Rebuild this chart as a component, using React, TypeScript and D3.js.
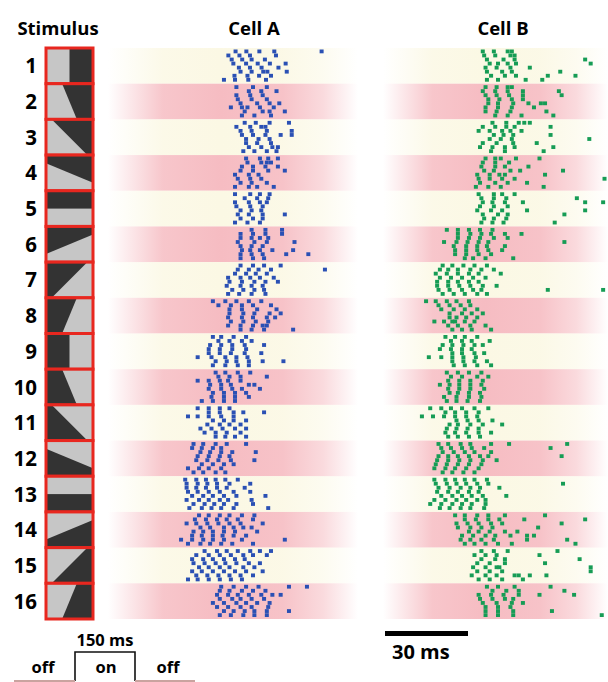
import React from "react";
import * as d3 from "d3";

// stimulus rows
const stimulusLabels = ["1", "2", "3", "4", "5", "6", "7", "8", "9", "10", "11", "12", "13", "14", "15", "16"];
// direction (deg, counter-clockwise) of the dark half of each stimulus
const stimulusAngles = [0, 22.5, 45, 67.5, 90, 112.5, 135, 157.5, 180, 202.5, 225, 247.5, 270, 292.5, 315, 337.5];

// spike times (ms) per stimulus row, 8 trials each
const cellASpikes = [
  [[23.7, 27.6, 32.3, 37.7, 54.8], [21.1, 25.1, 28.9, 38.3], [22.3, 26.1, 29.5, 34.3], [22.9, 27.5, 31.7, 36.1, 41.8], [24.9, 28.9, 33.1, 39.2], [25.5, 29.5, 33.7, 35.2, 42.2], [23.3, 28, 32.2, 36.5], [19.5, 23.5, 28.3, 34.7]],
  [[24, 30, 35], [28.5, 33, 38.5], [24, 29, 33.5], [24.5, 29.5, 35], [25.5, 31.5, 36, 39.5], [22, 26, 28, 32.5, 37.5], [27, 33.5, 36, 41.5], [26, 30.5, 36.5]],
  [[27, 31, 36, 43], [24, 29, 33, 34.5], [25.5, 29.5, 35, 44], [26, 30, 34.5, 40, 44], [27.5, 32, 36], [27.5, 31.5, 36.5], [28.5, 33, 37, 39], [26.5, 30.5, 35, 38.5]],
  [[27.5, 32.5, 35.5, 39], [28, 33, 35, 36.5], [26, 30, 34.5, 39], [25.5, 30, 35.5, 41.5], [23.5, 28.5, 32], [24.5, 29, 33], [25.5, 29.5, 35], [23.5, 28.5, 31.5, 37.5]],
  [[23.5, 29, 32.5, 36], [27, 31.5, 35.5], [23.5, 28.5, 32.5, 35], [24, 29, 33.5], [25.5, 29.5, 33], [24.5, 28.5, 33.5, 41.5], [25.5, 30, 33.5], [23.5, 28, 32.5]],
  [[29.5, 34.5, 40.5], [25.5, 30, 34.5, 40.5], [25.5, 29.5, 32.5, 35.5], [24.5, 30.5, 35, 45], [25.5, 29.5, 33.5], [26, 29, 32.5, 37, 44.5], [25.5, 29.5, 33.5, 42, 50], [25.5, 30, 34]],
  [[25.5, 30, 34, 40], [24.5, 28.5, 32, 36.5, 56], [23.5, 27.5, 31, 35], [21, 25.5, 29, 32.5, 37.5], [21.5, 26, 30.5, 34.5, 39], [20.5, 25.5, 29.5, 33.5], [22.5, 26.5, 30.5, 34], [21, 25, 29.5, 34.5]],
  [[15.5, 20, 24, 28.5, 33], [17.5, 22, 26, 30, 36.5], [21.5, 26, 31.5, 38.5], [21.5, 26.5, 30.5, 36, 40], [21, 26, 30, 35, 38], [22, 26.5, 31, 35.5], [21, 25.5, 30, 33.5, 35], [25.5, 29.5, 34, 44.5]],
  [[15.5, 18.5, 23, 27.5], [17.5, 21.5, 26, 29.5], [14.5, 18.5, 22.5, 27, 34], [14, 18, 22.5, 27.5], [14, 18, 22, 27, 33], [10, 15, 20, 24, 28], [16.5, 20.5, 24, 28.5, 33.5, 41], [15.5, 20, 24.5, 28.5]],
  [[16.5, 20, 24.5, 29], [17.5, 21.5, 25.5, 35], [10, 14, 18, 21, 25.5], [14.5, 18.5, 22, 28.5, 30.5], [14, 18.5, 22.5, 26, 32.5], [15.5, 19.5, 23.5, 27.5], [15, 19.5, 23.5, 28.5], [11.5, 15.5, 19.5, 23.5]],
  [[10, 14, 18, 21.5], [14, 18, 23, 26.5, 34], [6.5, 10, 14, 18.5, 23], [15.5, 19.5, 23, 27.5], [13.5, 18, 21.5, 25.5], [11, 15, 19, 23.5, 27.5], [12.5, 16.5, 20.5, 25.5], [16.5, 20, 23.5, 27.5]],
  [[8.5, 12, 16.5, 20.5, 27.5], [8, 11.5, 15.5, 18.5], [11, 14.5, 18.5, 22.5, 31], [10, 14, 18, 21.5], [9.5, 13.5, 17.5, 22, 30.5], [11.5, 15.5, 19.5, 23], [6.5, 10.5, 14, 18.5], [8.5, 12, 16.5, 20]],
  [[5.5, 9.5, 13, 16.5, 20, 24.5], [6, 10, 13.5, 17, 21.5, 29], [6, 9.5, 13, 17, 20.5, 27], [6.5, 10, 14, 18, 23, 29], [8, 12, 15.5, 19.5, 24, 34.5], [6, 10.5, 14, 18, 21, 29.5], [8.5, 12.5, 16, 19.5, 24, 30], [7, 11.5, 15, 18.5, 23, 35.5]],
  [[10.5, 14, 18, 21.5, 26, 30.5], [9, 13, 17, 20.5, 24.5, 30], [6, 9.5, 13.5, 17.5, 21.5, 25.5, 33.5], [11, 14.5, 19.5, 23, 26.5, 29.5], [8.5, 12, 15.5, 19.5, 23.5, 31.5], [8, 11.5, 15.5, 19, 23, 27.5], [4, 8, 12, 15.5, 19.5, 26, 41.5], [6.5, 11, 14.5, 18.5, 22.5, 30]],
  [[12.5, 17, 20.5, 24.5, 29, 32.5, 36.5], [9.5, 14, 18, 22, 26.5, 30, 35], [8, 12, 15.5, 19.5, 23.5, 27], [8.5, 12.5, 16.5, 20, 24, 28.5, 32.5], [10.5, 14, 18, 21.5, 26.5, 30.5], [8, 11.5, 15.5, 19.5, 23.5, 27.5, 33.5], [9.5, 13.5, 17.5, 21.5, 25.5, 30], [6.5, 10, 14, 18, 22, 26]],
  [[18.5, 23, 27.5, 32, 43, 49.5], [18, 21.5, 26, 30, 34.5], [17, 21, 24.5, 28.5, 33, 37, 40], [18, 22.5, 25.5, 29.5, 34], [15.5, 19.5, 24, 27.5, 31.5, 36], [17, 21, 25.5, 29.5, 35.5], [19.5, 23, 27, 30.5, 35, 43], [18, 22, 26.5, 30.5, 35]],
];

const cellBSpikes = [
  [[24.5, 28.5, 33.5, 35], [25, 29, 34.5, 36], [26, 32, 36, 61.5], [27, 30, 33.5, 36.5, 63.5], [25.5, 29.5, 34.5, 41.5], [26, 31.5, 35, 52.5], [27.5, 32.5, 36.5, 48, 58], [26, 30, 40, 46]],
  [[25.5, 29.5, 33.5, 35], [24.5, 29, 33.5, 39, 52], [25.5, 29.5, 34, 39, 53], [26.5, 30.5, 35, 39], [26.5, 30, 35.5, 41, 45.5, 47], [25.5, 30, 35, 43], [25.5, 29.5, 34.5, 47.5], [29, 33.5, 38.5, 50]],
  [[28, 33, 37.5, 39.5, 41.5], [24.5, 29, 33, 36, 49], [23, 27, 31.5, 34.5, 38.5], [28.5, 32, 35.5, 49], [27, 31, 35, 63], [24.5, 29.5, 35.5, 44], [23.5, 28, 32.5, 36, 50], [27.5, 32.5, 46.5]],
  [[25.5, 29, 31, 36.5, 45], [24.5, 29, 34], [24, 29, 32.5, 41], [25, 28.5, 34.5, 38, 53.5], [22.5, 27, 30.5, 32.5, 47], [23, 27, 31.5, 36, 68.5], [23.5, 29, 33.5, 40.5], [22, 26.5, 31, 46.5]],
  [[23, 28.5, 31.5, 36], [24, 28.5, 33, 58.5], [24.5, 28, 32.5, 39, 61.5, 68], [23.5, 28.5, 33.5], [22.5, 27.5, 31.5, 40.5, 61.5], [24.5, 30, 33.5, 54], [25, 28.5, 33], [24, 28, 32, 50.5]],
  [[11.5, 15.5, 19.5, 23.5, 28], [15.5, 20, 24, 27.5, 32.5, 38.5], [15.5, 19.5, 23.5, 28.5, 33.5], [10.5, 15, 19, 23, 26.5, 54], [14, 18.5, 22.5, 26, 32.5], [14.5, 18.5, 22.5, 26.5, 31.5], [14.5, 18.5, 23, 27.5], [18, 21, 25.5, 35.5]],
  [[10, 13.5, 17.5, 21.5, 26], [9, 12, 15.5, 20, 24, 28.5], [7.5, 11.5, 15.5, 19.5, 23, 31], [9, 13, 17, 21, 25.5], [8, 12, 15.5, 19.5, 23], [8, 12, 16, 20, 24.5, 29.5], [8.5, 12.5, 17, 21, 24, 48, 68], [10, 14, 18, 22.5, 26]],
  [[4, 7.5, 11.5, 15, 19.5], [8.5, 12.5, 16.5, 20], [9.5, 14, 18, 22.5], [12.5, 17, 20.5, 24.5], [12.5, 15, 18.5, 22.5], [7, 10.5, 13.5, 14.5, 18, 21.5], [12, 15.5, 20, 25.5], [13.5, 17, 20.5, 27.5]],
  [[11, 14.5, 18, 22.5], [13, 17, 20.5, 27], [10, 13.5, 17.5, 21.5, 24.5], [9, 13, 17, 20.5], [13.5, 17, 21.5, 25], [5, 9.5, 13.5, 17.5, 22], [13.5, 17.5, 21.5, 26], [14, 18, 22.5, 27.5]],
  [[11.5, 15.5, 19.5, 24], [13, 17, 22.5, 26.5], [12, 16, 20, 24.5], [9, 12.5, 16, 20, 24], [12, 16, 20, 25], [12.5, 15.5, 19.5, 23.5], [10.5, 15, 19.5, 24], [11.5, 15, 19, 23.5]],
  [[5.5, 9.5, 13, 17, 21.5, 26.5], [11, 14.5, 18.5, 23], [2.5, 6.5, 10.5, 14.5, 18.5, 22.5], [15, 19, 23, 28], [12.5, 15.5, 20, 24.5, 31.5], [11.5, 15, 19, 23], [11, 14.5, 18.5, 23, 27.5], [12, 15.5, 19.5, 23.5]],
  [[8.5, 12, 16.5, 20, 27.5, 34, 55], [9.5, 13, 17, 20.5, 25, 49], [10, 14, 18, 21.5, 27.5], [8.5, 12, 15.5, 19.5, 23.5, 26.5, 53], [8, 12, 16, 20, 24.5, 29.5], [7.5, 11.5, 15.5, 19.5, 24], [7, 11, 14.5, 18.5, 23], [10, 13.5, 17.5, 21.5]],
  [[7, 11, 14.5, 18, 21.5, 26], [7.5, 11.5, 15, 18.5, 22.5, 26.5, 53.5], [8.5, 12.5, 16.5, 20, 23.5, 30.5], [8, 12, 15.5, 19.5, 23], [9.5, 13.5, 17, 20.5, 24.5, 33], [7, 11, 15, 18.5, 22.5, 25.5], [5.5, 9.5, 13.5, 17, 20.5, 25.5], [9, 12.5, 16.5, 20, 25]],
  [[14.5, 18, 22.5, 26.5, 32.5, 47], [18, 22, 26.5, 30.5, 39.5, 61.5], [15, 19, 23, 27.5, 31.5, 53], [15.5, 20, 24, 28, 44.5], [19.5, 23, 27, 32.5, 37], [17, 21, 25.5, 29, 34.5, 40.5, 43], [16.5, 20, 24, 28.5, 40.5, 55], [18, 21.5, 25.5, 30, 35, 58]],
  [[24, 28.5, 33.5, 51.5], [21.5, 25.5, 29.5, 45], [24, 29, 32.5, 59.5], [22.5, 27, 32.5, 47], [21, 25.5, 29.5, 30.5, 63.5], [22.5, 27, 31.5, 63.5], [20.5, 25.5, 29.5, 36, 37.5, 41.5, 47.5], [23, 27, 31.5, 39]],
  [[26, 30, 36, 49], [28, 33, 37.5, 54], [23, 27.5, 32, 37.5, 45, 57.5], [23.5, 28, 32.5, 35.5], [24.5, 29.5, 35, 39], [25.5, 30, 34.5], [25.5, 30, 35.5, 49.5], [25.5, 30, 35.5, 67.5]],
];

const scaleBarMs = 30;
const stimulusOnMs = 150;

const FONT = "'Open Sans', 'DejaVu Sans', sans-serif";
const RED = "#e8271f";
const DARK = "#333333";
const LIGHT = "#c6c6c6";

const rowScale = d3.scaleBand<string>().domain(stimulusLabels).range([48, 619]);
const trialScale = d3.scaleLinear().domain([0, 7]).range([3.4, 31.8]);

const panels = [
  { id: "A", title: "Cell A", cx: 254, x: d3.scaleLinear().domain([0, 30]).range([170, 253]), band: [108, 358], color: "#2a50b4", spikes: cellASpikes },
  { id: "B", title: "Cell B", cx: 503, x: d3.scaleLinear().domain([0, 30]).range([415, 498]), band: [383, 608], color: "#169c55", spikes: cellBSpikes },
];

const barScale = d3.scaleLinear().domain([0, scaleBarMs]).range([385, 468]);

function BandGradient({ id, x0, x1, color }: { id: string; x0: number; x1: number; color: string }) {
  return (
    <linearGradient id={id} gradientUnits="userSpaceOnUse" x1={x0} x2={x1} y1={0} y2={0}>
      <stop offset="0" stopColor={color} stopOpacity={0} />
      <stop offset="0.22" stopColor={color} stopOpacity={0.85} />
      <stop offset="0.45" stopColor={color} stopOpacity={1} />
      <stop offset="0.7" stopColor={color} stopOpacity={0.9} />
      <stop offset="0.86" stopColor={color} stopOpacity={0.55} />
      <stop offset="1" stopColor={color} stopOpacity={0} />
    </linearGradient>
  );
}

export default function App() {
  const boxX = 46;
  const boxW = 47;
  const rowH = rowScale.bandwidth();

  return (
    <svg width={608} height={682} style={{ position: "absolute", left: 0, top: 0 }} fontFamily={FONT}>
      <defs>
        {panels.map((p) => (
          <React.Fragment key={p.id}>
            <BandGradient id={`cream${p.id}`} x0={p.band[0]} x1={p.band[1]} color="#fbf8e4" />
            <BandGradient id={`pink${p.id}`} x0={p.band[0]} x1={p.band[1]} color="#f6bcc2" />
          </React.Fragment>
        ))}
        {stimulusLabels.map((l) => (
          <clipPath id={`clip${l}`} key={l}>
            <rect x={boxX} y={rowScale(l)} width={boxW} height={rowH} />
          </clipPath>
        ))}
      </defs>
      <rect width={608} height={682} fill="#ffffff" />

      {/* titles */}
      <text x={58} y={35} textAnchor="middle" fontSize={18.5} fontWeight={700}>Stimulus</text>
      {panels.map((p) => (
        <text key={p.id} x={p.cx} y={35} textAnchor="middle" fontSize={18.5} fontWeight={700}>{p.title}</text>
      ))}

      {/* background bands */}
      {panels.map((p) =>
        stimulusLabels.map((l, i) => (
          <rect key={p.id + l} x={p.band[0]} y={rowScale(l)} width={p.band[1] - p.band[0]} height={rowH}
            fill={`url(#${i % 2 === 0 ? "cream" : "pink"}${p.id})`} />
        ))
      )}

      {/* spikes */}
      {panels.map((p) =>
        p.spikes.map((trials, r) =>
          trials.map((times, t) =>
            times.map((ms, k) => (
              <rect key={`${p.id}-${r}-${t}-${k}`} x={p.x(ms) - 2} y={(rowScale(stimulusLabels[r]) as number) + trialScale(t) - 1.9}
                width={4} height={3.8} fill={p.color} />
            ))
          )
        )
      )}

      {/* stimulus icons */}
      {stimulusLabels.map((l, i) => {
        const y0 = rowScale(l) as number;
        const cx = boxX + boxW / 2;
        const cy = y0 + rowH / 2;
        return (
          <g key={l}>
            <text x={37} y={cy + 7.5} textAnchor="end" fontSize={20.5} fontWeight={700}>{l}</text>
            <g clipPath={`url(#clip${l})`}>
              <rect x={boxX} y={y0} width={boxW} height={rowH} fill={LIGHT} />
              <rect x={0} y={-60} width={60} height={120} fill={DARK}
                transform={`translate(${cx},${cy}) rotate(${-stimulusAngles[i]})`} />
            </g>
            <rect x={boxX} y={y0} width={boxW} height={rowH} fill="none" stroke={RED} strokeWidth={3} />
          </g>
        );
      })}

      {/* stimulus timing */}
      <text x={105} y={646} textAnchor="middle" fontSize={16.5} fontWeight={700}>{`${stimulusOnMs} ms`}</text>
      <path d="M75,681 V652 H135 V681" fill="none" stroke="#111" strokeWidth={1.6} />
      <line x1={14} x2={75} y1={681} y2={681} stroke="#c9a39f" strokeWidth={2} />
      <line x1={135} x2={195} y1={681} y2={681} stroke="#c9a39f" strokeWidth={2} />
      <text x={43} y={673} textAnchor="middle" fontSize={16.5} fontWeight={700}>off</text>
      <text x={106} y={673} textAnchor="middle" fontSize={16.5} fontWeight={700}>on</text>
      <text x={168} y={673} textAnchor="middle" fontSize={16.5} fontWeight={700}>off</text>

      {/* scale bar */}
      <rect x={barScale(0)} y={631} width={barScale(scaleBarMs) - barScale(0)} height={5} fill="#000" />
      <text x={392} y={659} fontSize={20} fontWeight={700}>{`${scaleBarMs} ms`}</text>
    </svg>
  );
}
